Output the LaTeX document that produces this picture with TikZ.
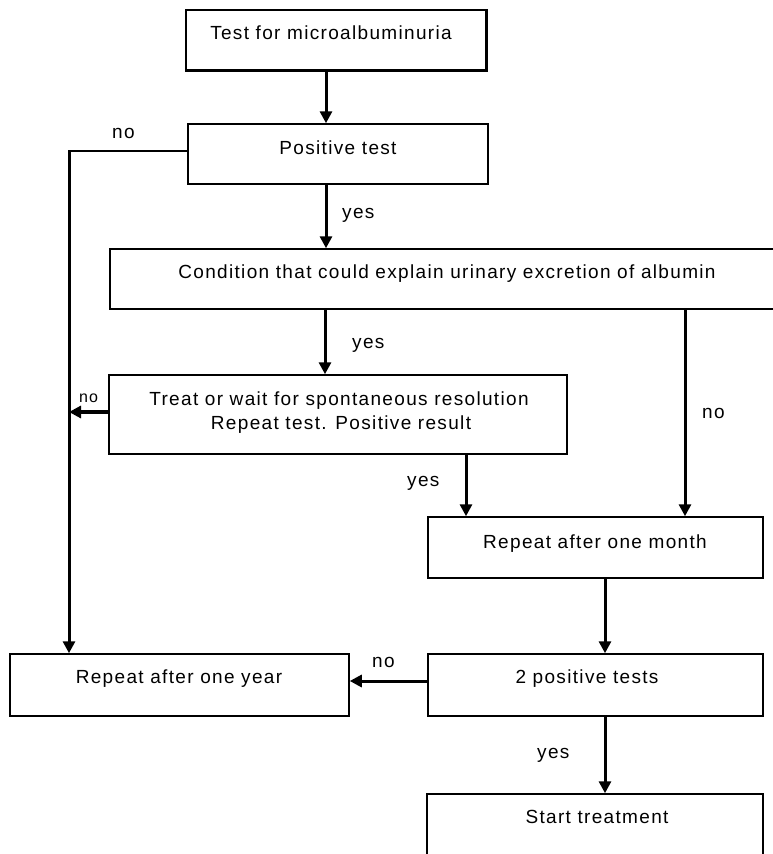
\documentclass[tikz,border=0pt]{standalone}
\usepackage{fontspec}
\setmainfont{Liberation Sans}[LetterSpace=7]
\usetikzlibrary{arrows.meta}
\begin{document}
\begin{tikzpicture}[x=1pt,y=-1pt,
  box/.style={draw, line width=1.5pt, inner sep=0pt, fill=white},
  txt/.style={font=\fontsize{19}{21}\selectfont, inner sep=0pt, anchor=base},
  lbl/.style={font=\fontsize{19}{21}\selectfont, inner sep=0pt, anchor=base west},
  arr/.style={line width=3pt, -{Triangle[length=12pt,width=12pt]}},
  thin/.style={line width=1.5pt}
]
\useasboundingbox[fill=white] (0,0) rectangle (773,854);
% boxes
\node[box, minimum width=300pt, minimum height=60pt] (b1) at (336,40) {};
\node[box, minimum width=300pt, minimum height=60pt] (b2) at (338,154) {};
\node[box, minimum width=680pt, minimum height=60pt] (b3) at (450,279) {};
\node[box, minimum width=458pt, minimum height=79pt] (b4) at (338,414.5) {};
\node[box, minimum width=335pt, minimum height=61pt] (b5) at (595.5,547.5) {};
\node[box, minimum width=339pt, minimum height=62pt] (by) at (179.5,685) {};
\node[box, minimum width=335pt, minimum height=62pt] (b6) at (595.5,685) {};
\node[box, minimum width=336pt, minimum height=80pt] (b7) at (595,834) {};
\draw[line width=2.8pt] (b1.north east) -- (b1.south east) -- (b1.south west);
% texts
\node[txt] (t1) at (331,39) {Test for microalbuminuria};
\node[txt] (t2) at (338,154) {Positive test};
\node[txt] (t3) at (447,278) {Condition that could explain urinary excretion of albumin};
\node[txt] (t4a) at (339,405) {Treat or wait for spontaneous resolution};
\node[txt] (t4b) at (341,429) {Repeat test. Positive result};
\node[txt] (t5) at (595,548) {Repeat after one month};
\node[txt] (ty) at (179,683) {Repeat after one year};
\node[txt] (t6) at (587,683) {2 positive tests};
\node[txt] (t7) at (597,823) {Start treatment};
% connectors
\coordinate (c1) at (69,151);
\draw[arr] (326,0 |- b1.south) -- (326,0 |- b2.north);
\draw[arr] (326,0 |- b2.south) -- (326,0 |- b3.north);
\draw[arr] (325,0 |- b3.south) -- (325,0 |- b4.north);
\draw[arr] (685,0 |- b3.south) -- (685,0 |- b5.north);
\draw[arr] (466,0 |- b4.south) -- (466,0 |- b5.north);
\draw[arr] (605,0 |- b5.south) -- (605,0 |- b6.north);
\draw[arr] (605,0 |- b6.south) -- (605,0 |- b7.north);
\draw[arr] (b6.west |- 0,681) -- (by.east |- 0,681);
\draw[thin] (b2.west |- c1) -- (c1);
\draw[arr] ([yshift=0.7pt]c1) -- (c1 |- by.north);
\draw[line width=4pt, -{Triangle[length=12pt,width=12pt]}] (b4.west |- 0,412) -- (69,412);
% labels
\node[lbl] (l1) at (112,138) {no};
\node[lbl] (l2) at (342,218) {yes};
\node[lbl] (l3) at (352,348) {yes};
\node[lbl, font=\fontsize{16}{18}\selectfont] (l4) at (79,402) {no};
\node[lbl] (l5) at (702,418) {no};
\node[lbl] (l6) at (407,486) {yes};
\node[lbl] (l7) at (372,667) {no};
\node[lbl] (l8) at (537,758) {yes};
\end{tikzpicture}
\end{document}
